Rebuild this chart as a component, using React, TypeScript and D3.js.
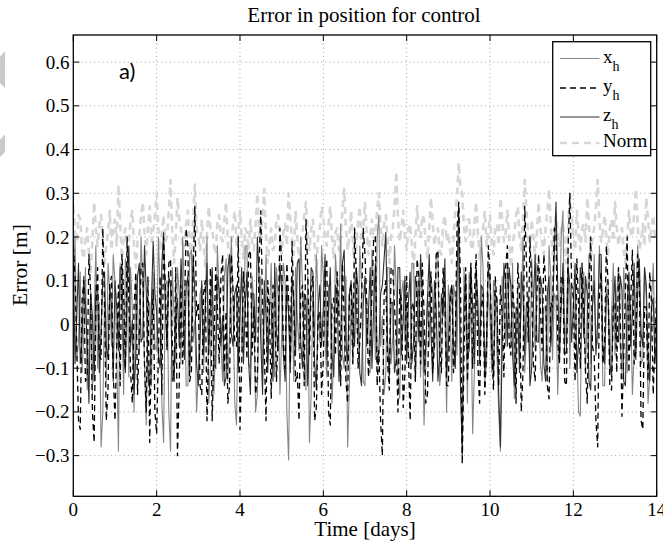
import React from "react";
import * as d3 from "d3";

// ---- data: one sample per hour over 14 days ----
const STEP_DAYS = 1 / 24;

const xH = [
  0.05, 0.20, -0.08, -0.04, 0.12, -0.11, -0.03, 0.13, -0.15, -0.07, 0.08, -0.16, 0.02, 0.18, -0.10, 0.05, -0.28, -0.20, 0.06, -0.13, 0.14, 0.07, -0.05, 0.16,
  0.10, -0.07, -0.29, 0.14, 0.04, -0.16, 0.15, 0.11, -0.12, 0.13, 0.03, -0.20, 0.11, 0.04, -0.07, 0.20, 0.09, -0.09, -0.23, 0.02, 0.05, -0.14, 0.12, -0.05,
  -0.06, 0.20, 0.08, -0.18, -0.27, 0.09, 0.10, -0.20, -0.29, 0.13, 0.02, -0.09, 0.13, 0.07, -0.09, 0.20, 0.06, -0.14, -0.14, 0.16, 0.17, -0.04, 0.01, -0.20,
  -0.11, 0.07, 0.09, -0.11, 0.03, 0.20, -0.18, -0.09, 0.12, -0.16, -0.04, 0.18, 0.07, -0.04, -0.13, 0.11, 0.15, -0.13, -0.02, 0.20, 0.05, -0.18, -0.23, 0.05,
  0.08, -0.05, -0.07, 0.18, 0.18, -0.09, -0.10, 0.11, 0.04, -0.20, -0.16, 0.05, 0.11, -0.11, 0.02, 0.16, -0.08, 0.02, 0.14, -0.07, -0.12, 0.13, 0.06, -0.16,
  -0.03, 0.14, 0.10, -0.20, -0.31, 0.04, 0.05, -0.13, 0.13, 0.02, -0.06, 0.20, 0.09, -0.07, -0.15, 0.11, -0.27, -0.16, 0.07, -0.04, 0.16, 0.05, -0.04, 0.18,
  0.11, -0.04, -0.12, 0.09, 0.03, -0.18, -0.07, 0.16, 0.08, 0.02, 0.23, -0.07, -0.10, 0.11, -0.28, -0.14, 0.06, -0.09, 0.12, 0.04, -0.05, 0.18, 0.09, -0.13,
  -0.14, 0.05, 0.04, -0.11, 0.17, 0.09, -0.08, 0.20, 0.25, -0.05, 0.02, -0.16, -0.11, 0.13, 0.13, -0.09, -0.03, 0.18, 0.08, -0.11, -0.17, 0.07, 0.10, -0.04,
  0.05, -0.07, -0.09, 0.14, 0.14, -0.13, -0.02, 0.11, -0.12, 0.04, -0.23, -0.09, 0.07, -0.05, 0.11, 0.07, -0.06, 0.16, 0.16, -0.14, -0.10, 0.09, 0.03, -0.20,
  0.09, 0.04, -0.13, 0.09, 0.06, -0.07, 0.20, -0.14, -0.26, 0.13, 0.04, -0.18, 0.12, 0.05, -0.25, -0.11, 0.08, 0.02, -0.05, 0.20, 0.13, -0.13, -0.09, 0.07,
  0.02, -0.11, 0.10, 0.05, -0.07, -0.20, -0.29, 0.11, 0.05, -0.05, 0.14, 0.02, -0.04, 0.14, -0.17, -0.09, 0.09, -0.04, 0.03, 0.20, -0.11, -0.02, 0.07, -0.11,
  0.15, 0.05, -0.06, 0.14, 0.11, -0.09, -0.13, 0.04, 0.04, -0.13, 0.18, 0.11, -0.08, 0.07, 0.06, -0.16, -0.02, 0.20, 0.26, -0.05, 0.01, 0.16, -0.10, 0.09,
  0.08, -0.04, -0.05, -0.20, -0.21, 0.07, 0.12, -0.11, 0.03, 0.16, -0.09, 0.04, 0.16, -0.05, -0.04, 0.18, 0.07, -0.14, -0.14, 0.09, 0.10, -0.11, 0.02, 0.14,
  -0.07, 0.07, 0.13, -0.05, -0.11, 0.13, 0.05, -0.11, 0.09, 0.04, -0.16, -0.07, 0.04, 0.18, 0.11, -0.09, -0.08, 0.13, 0.06, -0.18, -0.12, 0.05, 0.14, -0.04,
  0.03,
];

const yH = [
  0.18, 0.11, -0.05, -0.22, -0.24, 0.05, 0.10, -0.13, -0.12, 0.16, 0.07, -0.20, -0.27, 0.04, 0.13, -0.07, -0.08, 0.22, 0.04, -0.22, -0.15, 0.09, 0.11, -0.11,
  -0.22, -0.05, 0.09, -0.14, 0.16, 0.07, -0.10, 0.20, 0.05, -0.11, -0.18, 0.04, 0.12, -0.16, -0.03, 0.13, 0.14, -0.09, -0.20, 0.11, -0.27, -0.04, 0.08, -0.20,
  -0.25, -0.07, 0.11, -0.16, 0.20, 0.09, -0.06, 0.14, 0.15, -0.04, -0.13, 0.13, -0.30, -0.14, 0.09, -0.09, 0.02, 0.22, 0.18, -0.13, -0.11, 0.11, 0.27, 0.02,
  0.05, -0.14, -0.16, 0.07, 0.10, -0.22, -0.04, 0.13, -0.22, -0.05, 0.13, 0.04, -0.09, 0.11, 0.16, -0.11, 0.03, -0.18, -0.14, 0.16, 0.08, -0.04, -0.05, 0.20,
  -0.24, -0.09, 0.12, 0.05, -0.08, 0.16, 0.17, -0.07, 0.04, -0.16, -0.12, 0.14, 0.26, 0.04, -0.06, -0.22, 0.10, 0.02, -0.17, 0.09, 0.07, -0.13, -0.02, 0.22,
  0.14, -0.05, -0.10, 0.14, 0.06, -0.09, 0.19, 0.04, -0.13, -0.11, -0.22, 0.07, 0.09, -0.14, 0.24, 0.13, -0.07, 0.09, 0.11, -0.22, -0.19, 0.02, 0.03, -0.16,
  -0.08, 0.11, 0.15, -0.20, -0.23, 0.05, 0.06, -0.07, 0.12, 0.02, -0.14, 0.14, 0.02, -0.13, -0.18, 0.07, 0.09, -0.09, 0.22, 0.11, -0.10, -0.04, 0.05, 0.22,
  0.16, 0.05, -0.12, -0.04, 0.07, 0.20, 0.20, -0.14, -0.06, -0.22, -0.30, 0.07, 0.10, -0.09, -0.15, 0.13, 0.13, 0.04, -0.04, -0.20, 0.08, 0.05, -0.19, -0.11,
  0.11, -0.07, -0.22, 0.04, 0.05, -0.13, 0.15, 0.11, -0.09, 0.14, 0.03, -0.18, -0.16, 0.07, 0.12, -0.11, -0.05, 0.16, 0.17, -0.05, -0.11, 0.13, 0.06, -0.14,
  -0.14, 0.05, 0.09, -0.11, -0.03, 0.22, 0.28, 0.09, -0.32, -0.07, 0.13, -0.13, 0.02, 0.14, -0.10, 0.07, 0.16, -0.09, -0.18, 0.04, 0.07, -0.16, -0.06, 0.18,
  0.12, -0.05, -0.15, 0.11, 0.05, -0.14, 0.09, 0.02, -0.12, 0.13, 0.18, -0.04, -0.07, 0.09, 0.03, -0.18, 0.14, 0.07, -0.20, -0.11, 0.27, 0.14, -0.04, 0.20,
  0.08, -0.09, -0.13, 0.07, 0.16, 0.04, -0.06, 0.16, 0.10, -0.14, -0.17, 0.05, 0.04, 0.22, 0.21, -0.04, -0.09, 0.11, 0.11, -0.13, -0.14, 0.18, 0.30, 0.09,
  0.06, -0.13, 0.15, 0.04, -0.10, 0.14, 0.03, -0.11, -0.18, 0.09, 0.20, -0.05, -0.07, -0.22, -0.28, 0.07, 0.12, -0.09, -0.04, 0.18, 0.09, -0.14, -0.15, 0.04,
  0.05, -0.11, 0.13, 0.02, -0.21, -0.07, 0.08, 0.20, -0.11, 0.05, 0.17, -0.09, -0.06, 0.16, 0.10, -0.22, -0.24, 0.04, 0.04, -0.13, 0.12, 0.05, -0.16, -0.04,
  0.07,
];

const zH = [
  0.16, -0.09, 0.02, 0.14, -0.09, -0.04, 0.11, 0.05, -0.04, -0.18, 0.07, 0.02, -0.13, 0.09, 0.09, -0.11, -0.02, 0.11, 0.12, -0.05, -0.08, 0.09, 0.04, -0.13,
  0.10, 0.04, -0.06, 0.13, 0.13, -0.07, -0.11, 0.09, 0.18, -0.05, 0.01, -0.16, -0.07, 0.11, 0.14, -0.04, -0.03, 0.18, 0.08, -0.11, -0.15, 0.05, 0.19, 0.07,
  0.03, -0.07, -0.10, 0.14, 0.21, 0.04, -0.05, 0.11, 0.09, -0.13, -0.12, 0.02, 0.06, -0.05, 0.15, 0.07, -0.08, 0.09, 0.11, -0.11, -0.02, 0.16, 0.07, -0.09,
  -0.14, -0.04, 0.10, -0.07, 0.04, 0.14, -0.07, 0.05, 0.13, -0.09, -0.10, 0.11, 0.08, -0.05, 0.02, -0.14, -0.12, 0.13, 0.16, -0.02, -0.05, 0.07, 0.09, -0.11,
  0.03, 0.13, -0.09, 0.04, 0.12, -0.09, -0.16, 0.07, 0.07, -0.04, 0.20, 0.11, -0.04, -0.16, 0.10, 0.02, -0.11, 0.05, 0.05, -0.13, 0.14, -0.02, -0.06, 0.14,
  0.08, -0.07, -0.13, 0.09, 0.02, -0.11, 0.11, 0.05, -0.07, 0.14, 0.15, -0.04, -0.10, 0.07, 0.06, -0.14, -0.03, 0.13, 0.12, -0.09, -0.15, 0.04, 0.09, -0.05,
  0.04, 0.16, -0.08, 0.04, 0.13, -0.07, -0.12, 0.09, 0.06, -0.13, -0.03, 0.14, 0.17, -0.04, -0.09, 0.07, 0.10, 0.02, -0.05, 0.13, 0.08, -0.11, -0.14, 0.05,
  0.11, -0.05, 0.03, 0.13, -0.10, 0.04, 0.14, -0.09, -0.06, 0.07, 0.09, 0.15, 0.21, -0.04, -0.12, 0.05, 0.05, -0.11, -0.08, 0.13, 0.13, -0.07, 0.01, 0.11,
  -0.09, 0.05, 0.12, -0.09, -0.04, 0.11, 0.08, -0.04, 0.16, 0.07, -0.11, -0.05, 0.06, 0.16, -0.02, -0.13, 0.10, 0.04, -0.13, -0.07, 0.07, 0.02, 0.15, -0.11,
  -0.05, 0.07, 0.09, -0.05, -0.10, 0.11, 0.27, -0.14, -0.30, 0.04, 0.11, -0.07, -0.06, 0.13, 0.04, -0.09, 0.13, 0.05, -0.09, 0.09, 0.08, -0.11, -0.03, 0.13,
  0.10, -0.04, -0.12, 0.07, 0.06, -0.16, -0.28, -0.05, 0.14, 0.09, -0.05, 0.13, 0.09, -0.07, -0.14, 0.04, 0.03, -0.11, 0.12, 0.07, -0.07, 0.05, 0.05, -0.14,
  -0.10, 0.05, 0.16, -0.04, -0.04, 0.11, 0.08, -0.09, -0.13, 0.07, 0.11, -0.05, 0.02, 0.16, 0.28, 0.09, -0.08, 0.04, 0.14, -0.07, -0.06, 0.13, 0.09, -0.04,
  0.04, 0.14, -0.11, -0.04, 0.13, 0.09, -0.03, 0.11, 0.07, -0.13, -0.15, 0.04, 0.10, -0.07, 0.01, 0.16, 0.16, -0.05, -0.09, 0.07, 0.06, -0.09, -0.12, 0.05,
  0.11, -0.04, -0.04, 0.11, 0.08, -0.13, -0.14, 0.05, 0.12, -0.05, 0.02, 0.14, -0.08, 0.07, 0.15, -0.02, -0.05, 0.13, 0.09, -0.07, -0.13, 0.04, 0.06, -0.09,
  -0.02,
];

const normH = [
  0.27, 0.21, 0.19, 0.25, 0.24, 0.17, 0.15, 0.20, 0.22, 0.16, 0.12, 0.19, 0.28, 0.22, 0.18, 0.23, 0.25, 0.19, 0.14, 0.18, 0.21, 0.26, 0.17, 0.22,
  0.24, 0.18, 0.32, 0.23, 0.15, 0.20, 0.22, 0.17, 0.19, 0.24, 0.26, 0.18, 0.13, 0.19, 0.20, 0.25, 0.28, 0.21, 0.16, 0.22, 0.27, 0.19, 0.21, 0.25,
  0.30, 0.22, 0.17, 0.21, 0.25, 0.19, 0.20, 0.26, 0.33, 0.21, 0.14, 0.20, 0.29, 0.24, 0.22, 0.17, 0.18, 0.23, 0.26, 0.20, 0.15, 0.24, 0.32, 0.22,
  0.20, 0.17, 0.24, 0.19, 0.13, 0.21, 0.27, 0.22, 0.22, 0.18, 0.16, 0.23, 0.25, 0.20, 0.19, 0.24, 0.28, 0.19, 0.12, 0.18, 0.23, 0.26, 0.18, 0.21,
  0.26, 0.20, 0.15, 0.22, 0.21, 0.17, 0.24, 0.19, 0.17, 0.23, 0.30, 0.21, 0.19, 0.25, 0.31, 0.20, 0.14, 0.19, 0.22, 0.17, 0.18, 0.24, 0.25, 0.19,
  0.16, 0.21, 0.23, 0.18, 0.30, 0.24, 0.19, 0.16, 0.26, 0.20, 0.14, 0.19, 0.21, 0.25, 0.28, 0.20, 0.17, 0.22, 0.24, 0.18, 0.12, 0.20, 0.22, 0.27,
  0.25, 0.19, 0.18, 0.23, 0.27, 0.20, 0.15, 0.21, 0.22, 0.17, 0.20, 0.26, 0.31, 0.22, 0.17, 0.20, 0.26, 0.19, 0.13, 0.18, 0.23, 0.27, 0.19, 0.22,
  0.28, 0.21, 0.16, 0.20, 0.24, 0.19, 0.21, 0.26, 0.30, 0.22, 0.18, 0.23, 0.25, 0.19, 0.14, 0.20, 0.22, 0.27, 0.35, 0.24, 0.19, 0.22, 0.26, 0.20,
  0.17, 0.22, 0.23, 0.18, 0.13, 0.20, 0.27, 0.21, 0.20, 0.25, 0.24, 0.18, 0.15, 0.22, 0.29, 0.23, 0.18, 0.21, 0.22, 0.17, 0.16, 0.23, 0.25, 0.19,
  0.21, 0.17, 0.14, 0.20, 0.26, 0.29, 0.37, 0.31, 0.30, 0.22, 0.19, 0.24, 0.24, 0.18, 0.17, 0.23, 0.28, 0.21, 0.15, 0.20, 0.22, 0.26, 0.18, 0.21,
  0.25, 0.19, 0.16, 0.22, 0.23, 0.18, 0.29, 0.24, 0.19, 0.21, 0.26, 0.20, 0.13, 0.18, 0.21, 0.25, 0.27, 0.20, 0.17, 0.24, 0.33, 0.26, 0.20, 0.17,
  0.24, 0.20, 0.15, 0.21, 0.28, 0.22, 0.19, 0.16, 0.22, 0.26, 0.31, 0.23, 0.16, 0.20, 0.25, 0.21, 0.18, 0.22, 0.23, 0.19, 0.14, 0.22, 0.30, 0.24,
  0.20, 0.17, 0.26, 0.21, 0.17, 0.22, 0.23, 0.19, 0.29, 0.23, 0.15, 0.20, 0.22, 0.27, 0.33, 0.24, 0.19, 0.21, 0.25, 0.20, 0.16, 0.22, 0.24, 0.19,
  0.28, 0.22, 0.18, 0.21, 0.22, 0.17, 0.14, 0.20, 0.26, 0.21, 0.20, 0.25, 0.31, 0.23, 0.17, 0.19, 0.23, 0.18, 0.29, 0.24, 0.19, 0.22, 0.25, 0.20,
  0.21,
];

const xTicks = [0, 2, 4, 6, 8, 10, 12, 14];
const yTicks = [-0.3, -0.2, -0.1, 0, 0.1, 0.2, 0.3, 0.4, 0.5, 0.6];
const X_DOMAIN = [0, 14];
const Y_DOMAIN = [-0.393, 0.662];

const TITLE = "Error in position for control";
const X_LABEL = "Time [days]";
const Y_LABEL = "Error [m]";
const PANEL_LABEL = "a)";

const legendItems = [
  { main: "x", sub: "h", color: "#858585", width: 1.1, dash: "none" },
  { main: "y", sub: "h", color: "#000000", width: 1.3, dash: "6,4" },
  { main: "z", sub: "h", color: "#303030", width: 1.1, dash: "none" },
  { main: "Norm", sub: "", color: "#d6d6d6", width: 2.6, dash: "7,5" },
];

// ---- layout ----
const W = 663;
const H = 544;
const L = 73.3;
const R = 656.7;
const T = 35;
const B = 496.3;

const SERIF = "'Liberation Serif', 'Times New Roman', serif";

function fmt(v: number) {
  if (Math.abs(v) < 1e-9) return "0";
  const s = d3.format(".1f")(Math.abs(v));
  return v < 0 ? "\u2212" + s : s;
}

export default function App() {
  const x = d3.scaleLinear().domain(X_DOMAIN).range([L, R]);
  const y = d3.scaleLinear().domain(Y_DOMAIN).range([B, T]);
  const line = d3
    .line<number>()
    .x((_, i) => x(i * STEP_DAYS))
    .y((d) => y(d));

  const tickLen = 6;

  const series = [
    { data: normH, style: legendItems[3] },
    { data: xH, style: legendItems[0] },
    { data: zH, style: legendItems[2] },
    { data: yH, style: legendItems[1] },
  ];

  const legX0 = 552.7;
  const legY0 = 41.7;
  const legW = 98;
  const legH = 114;
  const rowY = [58.5, 88, 117, 143];

  return (
    <svg
      width={W}
      height={H}
      style={{ position: "absolute", left: 0, top: 0, background: "#fff" }}
      fontFamily={SERIF}
    >
      <rect x={0} y={0} width={W} height={H} fill="#fff" />
      {/* left-edge page artifacts */}
      <polygon points="0,57 5,51 5,88 0,83" fill="#c9c9c9" />
      <polygon points="0,140 5,134 5,152 0,157" fill="#c9c9c9" />

      <defs>
        <clipPath id="plotclip">
          <rect x={L} y={T} width={R - L} height={B - T} />
        </clipPath>
      </defs>

      {/* grid */}
      <g stroke="#8c8c8c" strokeWidth={0.8} strokeDasharray="1,3.2">
        {xTicks
          .filter((t) => t > X_DOMAIN[0] && t < X_DOMAIN[1])
          .map((t) => (
            <line key={"gx" + t} x1={x(t)} x2={x(t)} y1={T} y2={B} />
          ))}
        {yTicks.map((t) => (
          <line key={"gy" + t} x1={L} x2={R} y1={y(t)} y2={y(t)} />
        ))}
      </g>

      {/* series */}
      <g clipPath="url(#plotclip)" fill="none">
        {series.map((s, k) => (
          <path
            key={k}
            d={line(s.data) || ""}
            stroke={s.style.color}
            strokeWidth={s.style.width}
            strokeDasharray={s.style.dash}
            strokeLinejoin="round"
          />
        ))}
      </g>

      {/* ticks */}
      <g stroke="#000" strokeWidth={1}>
        {xTicks.map((t) => (
          <g key={"tx" + t}>
            <line x1={x(t)} x2={x(t)} y1={B} y2={B - tickLen} />
            <line x1={x(t)} x2={x(t)} y1={T} y2={T + tickLen} />
          </g>
        ))}
        {yTicks.map((t) => (
          <g key={"ty" + t}>
            <line x1={L} x2={L + tickLen} y1={y(t)} y2={y(t)} />
            <line x1={R} x2={R - tickLen} y1={y(t)} y2={y(t)} />
          </g>
        ))}
      </g>

      {/* axes box */}
      <rect x={L} y={T} width={R - L} height={B - T} fill="none" stroke="#000" strokeWidth={1.3} />

      {/* tick labels */}
      <g fontSize={19} fill="#000">
        {xTicks.map((t) => (
          <text key={"lx" + t} x={x(t)} y={516} textAnchor="middle">
            {String(t)}
          </text>
        ))}
        {yTicks.map((t) => (
          <text key={"ly" + t} x={69.5} y={y(t) + 6.5} textAnchor="end">
            {fmt(t)}
          </text>
        ))}
      </g>

      {/* labels */}
      <text x={364} y={21.5} fontSize={21} textAnchor="middle">
        {TITLE}
      </text>
      <text x={365} y={536} fontSize={21} textAnchor="middle">
        {X_LABEL}
      </text>
      <text
        transform={`translate(26.5,265) rotate(-90)`}
        fontSize={21.5}
        textAnchor="middle"
      >
        {Y_LABEL}
      </text>
      <text x={119} y={78.5} fontSize={22} fontFamily="Lato, 'Open Sans', sans-serif">
        {PANEL_LABEL}
      </text>

      {/* legend */}
      <rect x={legX0} y={legY0} width={legW} height={legH} fill="#fff" stroke="#000" strokeWidth={1.3} />
      {legendItems.map((it, i) => (
        <g key={"lg" + i}>
          <line
            x1={560}
            x2={599.5}
            y1={rowY[i]}
            y2={rowY[i]}
            stroke={it.color}
            strokeWidth={it.width}
            strokeDasharray={it.dash}
          />
          <text x={603} y={rowY[i] + 4} fontSize={19}>
            {it.main}
            {it.sub ? (
              <tspan fontSize={14} dy={8}>
                {it.sub}
              </tspan>
            ) : null}
          </text>
        </g>
      ))}
    </svg>
  );
}
